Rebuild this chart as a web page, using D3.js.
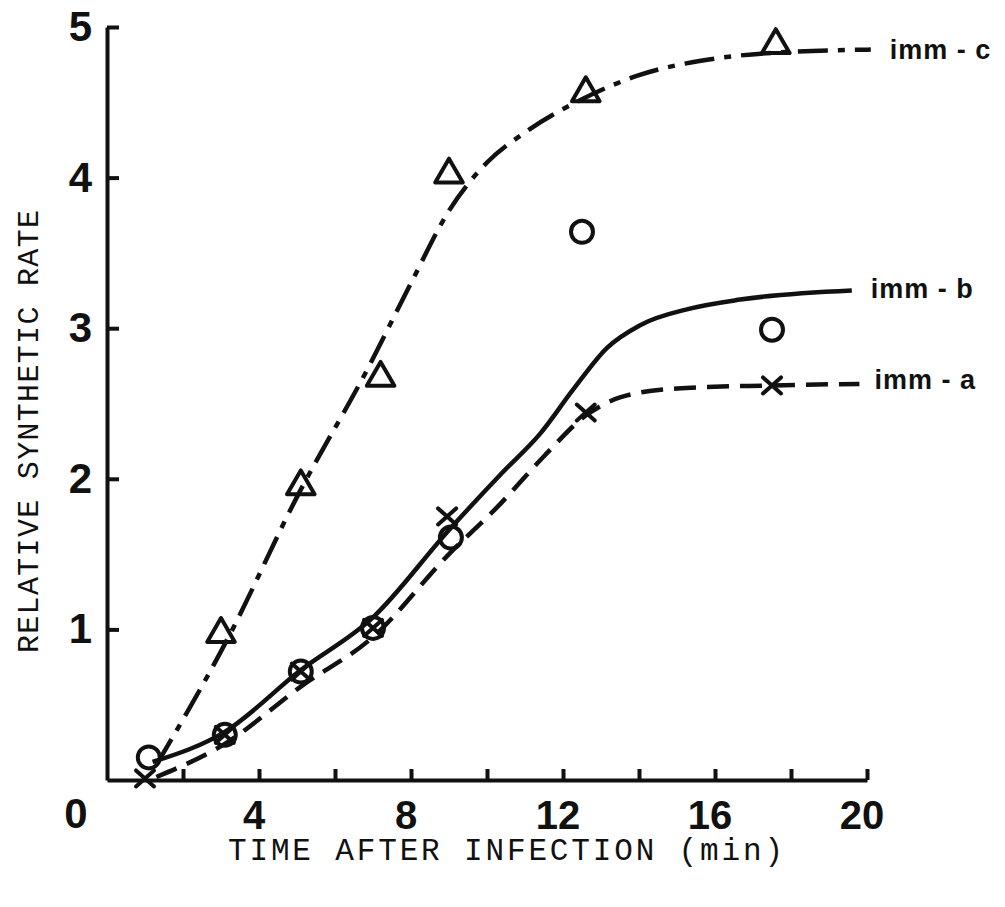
<!DOCTYPE html>
<html>
<head>
<meta charset="utf-8">
<script src="https://cdn.jsdelivr.net/npm/d3@7"></script>
<style>
  body { margin: 0; background: #fff; }
  svg { display: block; }
</style>
</head>
<body>
<div class="chart"></div>
<script>
// measured points
const timeC = [3, 5.1, 7.2, 9, 12.6, 17.6];
const immC  = [0.97, 1.95, 2.67, 4.02, 4.56, 4.88];
const timeB = [1.1, 3.1, 5.1, 7, 9.05, 12.5, 17.5];
const immB  = [0.15, 0.30, 0.72, 1.01, 1.61, 3.64, 2.99];
const timeA = [1.0, 3.1, 5.1, 7, 8.95, 12.6, 17.5];
const immA  = [0.01, 0.30, 0.72, 1.01, 1.75, 2.44, 2.62];

// hand drawn fitted curves
const curveTimeC = [1.3, 3.2, 5, 6.9, 8, 9, 10, 11, 12.5, 14, 16, 17.6, 20.1];
const curveC     = [0.1, 0.95, 1.88, 2.75, 3.3, 3.78, 4.1, 4.3, 4.52, 4.68, 4.79, 4.83, 4.85];
const curveTimeB = [1.2, 3.1, 5.1, 7, 9, 10.4, 11.4, 12.26, 13.16, 14.03, 15.34, 16.66, 19.6];
const curveB     = [0.12, 0.32, 0.73, 1.08, 1.66, 2.04, 2.3, 2.59, 2.87, 3.02, 3.13, 3.19, 3.25];
const curveTimeA = [1.3, 3.1, 5.1, 7, 9, 10.3, 11.5, 12.6, 13.5, 15, 17.5, 19.8];
const curveA     = [0.02, 0.24, 0.62, 0.95, 1.5, 1.82, 2.15, 2.42, 2.54, 2.6, 2.62, 2.63];

const xTicks = [2, 4, 6, 8, 10, 12, 14, 16, 18, 20];
const xLabels = [4, 8, 12, 16, 20];
const yTicks = [1, 2, 3, 4, 5];

const svg = d3.select(".chart").append("svg").attr("width", 1005).attr("height", 907);

const x = d3.scaleLinear().domain([0, 20]).range([107, 867]);
const y = d3.scaleLinear().domain([0, 5]).range([780, 27]);

const ink = "#111";
const numFont = "'Liberation Sans', Arial, sans-serif";
const typeFont = "'Liberation Mono', 'Courier New', monospace";

// axes
const xAxis = svg.append("g")
  .attr("transform", `translate(0,${y(0)})`)
  .call(d3.axisBottom(x).tickValues(xTicks).tickSizeInner(-11).tickSizeOuter(0).tickFormat(""));

const yAxis = svg.append("g")
  .attr("transform", `translate(${x(0)},0)`)
  .call(d3.axisLeft(y).tickValues(yTicks).tickSizeInner(-12).tickSizeOuter(0)
    .tickPadding(15).tickFormat(d3.format("d")));

[xAxis, yAxis].forEach(g => {
  g.select(".domain").attr("stroke", ink).attr("stroke-width", 4);
  g.selectAll(".tick line").attr("stroke", ink).attr("stroke-width", 4);
});

yAxis.selectAll(".tick text")
  .attr("fill", ink)
  .style("font-family", numFont)
  .style("font-weight", "bold")
  .style("font-size", "42px");

svg.append("g").selectAll("text")
  .data(xLabels)
  .join("text")
  .attr("x", d => x(d) - 5)
  .attr("y", 829)
  .attr("text-anchor", "middle")
  .attr("fill", ink)
  .style("font-family", numFont)
  .style("font-weight", "bold")
  .style("font-size", "40px")
  .text(d => d);

svg.append("text")
  .attr("x", 76).attr("y", 828)
  .attr("text-anchor", "middle")
  .attr("fill", ink)
  .style("font-family", numFont)
  .style("font-weight", "bold")
  .style("font-size", "42px")
  .text("0");

// axis titles
svg.append("text")
  .attr("x", 228).attr("y", 860)
  .attr("textLength", 555).attr("lengthAdjust", "spacing")
  .attr("fill", ink)
  .style("font-family", typeFont)
  .style("font-size", "31px")
  .text("TIME AFTER INFECTION (min)");

svg.append("text")
  .attr("transform", "translate(38,653) rotate(-90)")
  .attr("textLength", 443).attr("lengthAdjust", "spacing")
  .attr("fill", ink)
  .style("font-family", typeFont)
  .style("font-size", "30px")
  .text("RELATIVE SYNTHETIC RATE");

// curves
const line = d3.line()
  .x(d => x(d[0]))
  .y(d => y(d[1]))
  .curve(d3.curveMonotoneX);

const curves = [
  { t: curveTimeC, v: curveC, dash: "30,10,7,10" },
  { t: curveTimeB, v: curveB, dash: null },
  { t: curveTimeA, v: curveA, dash: "22,11" }
];

curves.forEach(c => {
  svg.append("path")
    .datum(d3.zip(c.t, c.v))
    .attr("d", line)
    .attr("fill", "none")
    .attr("stroke", ink)
    .attr("stroke-width", 4.5)
    .attr("stroke-dasharray", c.dash);
});

// markers
const tri = d3.symbol(d3.symbolTriangle, 330);
svg.append("g").selectAll("path")
  .data(d3.zip(timeC, immC))
  .join("path")
  .attr("transform", d => `translate(${x(d[0])},${y(d[1])})`)
  .attr("d", tri)
  .attr("fill", "none")
  .attr("stroke", ink)
  .attr("stroke-width", 4)
  .attr("stroke-linejoin", "round");

svg.append("g").selectAll("circle")
  .data(d3.zip(timeB, immB))
  .join("circle")
  .attr("cx", d => x(d[0]))
  .attr("cy", d => y(d[1]))
  .attr("r", 11)
  .attr("fill", "none")
  .attr("stroke", ink)
  .attr("stroke-width", 4);

svg.append("g").selectAll("path")
  .data(d3.zip(timeA, immA))
  .join("path")
  .attr("transform", d => `translate(${x(d[0])},${y(d[1])})`)
  .attr("d", "M-9,-8L9,8M9,-8L-9,8")
  .attr("fill", "none")
  .attr("stroke", ink)
  .attr("stroke-width", 4)
  .attr("stroke-linecap", "round");

// series labels
const seriesLabels = [
  { name: "imm - c", t: 20.6, v: 4.85 },
  { name: "imm - b", t: 20.1, v: 3.26 },
  { name: "imm - a", t: 20.2, v: 2.66 }
];

svg.append("g").selectAll("text")
  .data(seriesLabels)
  .join("text")
  .attr("x", d => x(d.t))
  .attr("y", d => y(d.v))
  .attr("dy", "0.35em")
  .attr("fill", ink)
  .style("font-family", numFont)
  .style("font-weight", "bold")
  .style("font-size", "27px")
  .style("letter-spacing", "1px")
  .text(d => d.name);
</script>
</body>
</html>
